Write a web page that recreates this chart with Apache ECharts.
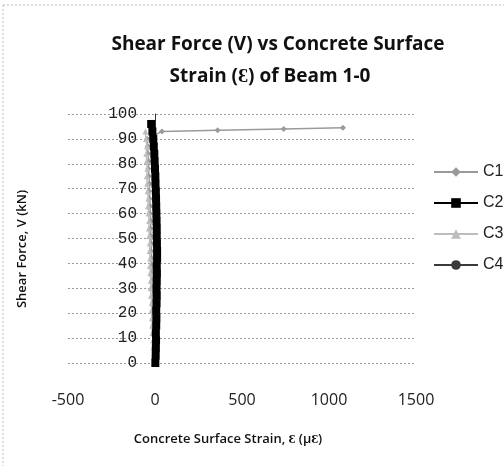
<!DOCTYPE html>
<html>
<head>
<meta charset="utf-8">
<script src="https://cdn.jsdelivr.net/npm/echarts@6/dist/echarts.min.js"></script>
<style>
html,body{margin:0;padding:0;background:#fff;}
#chart{width:504px;height:466px;}
</style>
</head>
<body>
<div id="chart"></div>
<script>
// ---- data ----
const xTicks = [-500, 0, 500, 1000, 1500];
const yTicks = [0, 10, 20, 30, 40, 50, 60, 70, 80, 90, 100];

const c1V      = [0, 3, 6, 9, 12, 15, 18, 21, 24, 27, 30, 33, 36, 39, 42, 45, 48, 51, 54, 57, 60, 63, 66, 69, 72, 75, 78, 81, 84, 87, 90, 93, 93.5, 94, 94.5];
const c1Strain = [0, -3, -5, -4, -8, -9, -7, -12, -13, -11, -15, -17, -16, -19, -18, -22, -21, -24, -26, -23, -28, -27, -30, -33, -31, -35, -38, -36, -40, -42, -45, 40, 360, 740, 1080];

const c2V      = [0, 3, 6, 9, 12, 15, 18, 21, 24, 27, 30, 33, 36, 39, 42, 45, 48, 51, 54, 57, 60, 63, 66, 69, 72, 75, 78, 81, 84, 87, 90, 93, 96];
const c2Strain = [2, 4, 5, 6, 5, 7, 8, 7, 9, 10, 9, 10, 11, 10, 12, 12, 11, 10, 10, 9, 8, 7, 6, 5, 3, 2, 0, -2, -4, -7, -10, -15, -22];

const c3V      = [0, 3, 6, 9, 12, 15, 18, 21, 24, 27, 30, 33, 36, 39, 42, 45, 48, 51, 54, 57, 60, 63, 66, 69, 72, 75, 78, 81, 84, 87, 90, 93];
const c3Strain = [-2, -6, -9, -11, -14, -16, -18, -20, -19, -23, -25, -24, -27, -29, -28, -31, -30, -33, -35, -34, -37, -40, -38, -42, -45, -47, -44, -48, -50, -46, -52, -55];

const c4V      = [0, 3, 6, 9, 12, 15, 18, 21, 24, 27, 30, 33, 36, 39, 42, 45, 48, 51, 54, 57, 60, 63, 66, 69, 72, 75, 78, 81, 84, 87, 90, 93];
const c4Strain = [2, 4, 6, 5, 7, 9, 8, 10, 12, 11, 13, 12, 14, 15, 13, 16, 15, 17, 16, 14, 15, 13, 12, 10, 9, 7, 5, 4, 2, -1, -4, -8];

function pairs(xs, ys) { return xs.map((x, i) => [x, ys[i]]); }

const chart = echarts.init(document.getElementById('chart'), null, {renderer: 'canvas'});
const option = {
  backgroundColor: '#fff',
  animation: false,
  grid: {left: 68, right: 88, top: 114, bottom: 103, containLabel: false},
  xAxis: {
    type: 'value', min: xTicks[0], max: xTicks[xTicks.length - 1], interval: 500,
    axisLine: {show: false, onZero: false},
    axisTick: {show: false},
    splitLine: {show: false},
    axisLabel: {margin: 29, color: '#222', fontFamily: 'Open Sans', fontSize: 16, formatter: v => String(v)}
  },
  yAxis: {
    type: 'value', min: yTicks[0], max: yTicks[yTicks.length - 1], interval: 10,
    offset: -87,
    axisLine: {show: true, onZero: false, lineStyle: {color: '#333', width: 1}},
    axisTick: {show: false},
    splitLine: {show: true, lineStyle: {color: '#999', width: 1, type: [2, 2]}},
    axisLabel: {margin: 18, color: '#222', fontFamily: 'Liberation Mono', fontSize: 16}
  },
  legend: {
    orient: 'vertical', left: 428, top: 159, itemGap: 15, itemWidth: 44, itemHeight: 12,
    textStyle: {fontFamily: 'Liberation Sans', fontSize: 16, color: '#222'},
    data: ['C1', 'C2', 'C3', 'C4']
  },
  series: [
    {name: 'C1', type: 'line', data: pairs(c1Strain, c1V), symbol: 'diamond', symbolSize: 6,
     lineStyle: {color: '#9a9a9a', width: 1.5}, itemStyle: {color: '#9a9a9a'}},
    {name: 'C3', type: 'line', data: pairs(c3Strain, c3V), symbol: 'triangle', symbolSize: 6,
     lineStyle: {color: '#bdbdbd', width: 1.5}, itemStyle: {color: '#bdbdbd'}},
    {name: 'C4', type: 'line', data: pairs(c4Strain, c4V), symbol: 'circle', symbolSize: 4,
     lineStyle: {color: '#3a3a3a', width: 3}, itemStyle: {color: '#3a3a3a'}},
    {name: 'C2', type: 'line', data: pairs(c2Strain, c2V), symbol: 'rect', symbolSize: 8,
     lineStyle: {color: '#000', width: 3}, itemStyle: {color: '#000'}}
  ],
  graphic: [
    {type: 'text', x: 278, y: 45, style: {text: 'Shear Force (V) vs Concrete Surface', font: 'bold 19px "Open Sans"', fill: '#111', textAlign: 'center', textVerticalAlign: 'middle'}},
    {type: 'text', x: 270, y: 77, style: {text: 'Strain (Ɛ) of Beam 1-0', font: 'bold 19px "Open Sans"', fill: '#111', textAlign: 'center', textVerticalAlign: 'middle'}},
    {type: 'text', x: 228, y: 439, style: {text: 'Concrete Surface Strain, Ɛ (µƐ)', font: '600 13px "Open Sans"', fill: '#111', textAlign: 'center', textVerticalAlign: 'middle'}},
    {type: 'text', x: 22, y: 249, rotation: Math.PI / 2, style: {text: 'Shear Force, V (kN)', font: '600 13px "Open Sans"', fill: '#111', textAlign: 'center', textVerticalAlign: 'middle'}},
    {type: 'line', shape: {x1: 3, y1: 5, x2: 504, y2: 5}, style: {stroke: '#bbb', lineWidth: 1, lineDash: [2, 2]}},
    {type: 'line', shape: {x1: 3, y1: 5, x2: 3, y2: 466}, style: {stroke: '#bbb', lineWidth: 1, lineDash: [2, 2]}}
  ]
};
chart.setOption(option);
</script>
</body>
</html>
